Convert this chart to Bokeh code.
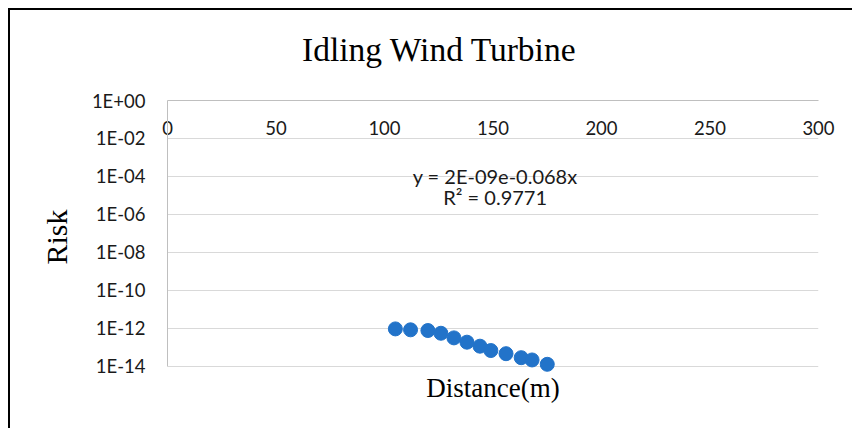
from bokeh.plotting import figure
from bokeh.models import (Range1d, FixedTicker, CustomJSTickFormatter, LinearAxis,
                          Label, Title, Spacer)
from bokeh.layouts import column, row
from bokeh.embed import file_html
from bokeh.resources import INLINE

# ---- data ----
distance = [105, 112, 120, 126, 132, 138, 144, 149, 156, 163, 168, 175]
risk = [9.5e-13, 8.5e-13, 7.8e-13, 5.6e-13, 3.2e-13, 1.9e-13, 1.17e-13,
        6.9e-14, 4.7e-14, 2.9e-14, 2.2e-14, 1.3e-14]
x_ticks = [0, 50, 100, 150, 200, 250, 300]
y_ticks = [1e0, 1e-2, 1e-4, 1e-6, 1e-8, 1e-10, 1e-12, 1e-14]
title_text = "Idling Wind Turbine"
x_label = "Distance(m)"
y_label = "Risk"
eq_lines = ["y = 2E-09e-0.068x", "R\u00b2 = 0.9771"]

# placement of the trendline equation (data coordinates)
eq_x = 151
eq_y = [10 ** -3.95, 10 ** -5.1]

TICK_FONT = "Lato"
SERIF = "Liberation Serif"

p = figure(width=842, height=418, output_backend="svg", toolbar_location=None,
           y_axis_type="log", x_range=Range1d(0, 300),
           y_range=Range1d(10 ** -14.37, 1e0),
           x_axis_location=None, y_axis_location="left",
           min_border_left=157, min_border_right=34, min_border_top=90,
           min_border_bottom=55)
p.title = None
p.outline_line_color = None
p.background_fill_color = "white"
p.border_fill_color = "white"

# y axis
ya = p.yaxis[0]
ya.ticker = FixedTicker(ticks=y_ticks, minor_ticks=[])
ya.bounds = (1e-14, 1e0)
ya.formatter = CustomJSTickFormatter(code="""
const e = Math.round(Math.log10(tick));
const a = Math.abs(e);
return '1E' + (e < 0 ? '-' : '+') + (a < 10 ? '0' : '') + a;
""")
ya.axis_line_color = "#bfbfbf"
ya.major_tick_line_color = None
ya.minor_tick_line_color = None
ya.major_label_text_font = TICK_FONT
ya.major_label_text_font_size = "18.5px"
ya.major_label_text_color = "#1a1a1a"
ya.major_label_standoff = 16
ya.axis_label = y_label
ya.axis_label_text_font = SERIF
ya.axis_label_text_font_size = "30px"
ya.axis_label_text_font_style = "normal"
ya.axis_label_text_color = "black"
ya.axis_label_standoff = 16

p.ygrid.ticker = FixedTicker(ticks=y_ticks, minor_ticks=[])
p.ygrid.grid_line_color = "#d9d9d9"
p.xgrid.grid_line_color = None

# x axis drawn at the top (crossing at 1E+00), labels inside the plot
xa = LinearAxis(ticker=FixedTicker(ticks=x_ticks, minor_ticks=[]))
xa.axis_line_color = "#bfbfbf"
xa.major_tick_line_color = None
xa.minor_tick_line_color = None
xa.major_label_text_font = TICK_FONT
xa.major_label_text_font_size = "18.5px"
xa.major_label_text_color = "#1a1a1a"
xa.major_label_standoff = -40
p.add_layout(xa, "above")

# empty spacer axis between the top axis and the title
sp = LinearAxis(ticker=FixedTicker(ticks=[], minor_ticks=[]))
sp.axis_line_color = None
sp.major_tick_line_color = None
sp.minor_tick_line_color = None
sp.major_label_text_alpha = 0
sp.axis_label = "."
sp.axis_label_text_alpha = 0
sp.axis_label_text_font_size = "10px"
sp.axis_label_standoff = 5
p.add_layout(sp, "above")

# x axis title below the plot
xb = LinearAxis(ticker=FixedTicker(ticks=[], minor_ticks=[]))
xb.axis_line_color = None
xb.major_tick_line_color = None
xb.minor_tick_line_color = None
xb.major_label_text_alpha = 0
xb.axis_label = x_label
xb.axis_label_text_font = SERIF
xb.axis_label_text_font_size = "27px"
xb.axis_label_text_font_style = "normal"
xb.axis_label_text_color = "black"
xb.axis_label_standoff = -1
p.add_layout(xb, "below")

# chart title
t = Title(text=title_text, align="left", offset=134.5, text_font=SERIF,
          text_font_size="33.5px", text_font_style="normal", text_color="black",
          standoff=34)
p.add_layout(t, "above")

# points
p.scatter(distance, risk, size=14, color="#2273c9", line_color="#2273c9")

# trendline equation
for txt, yy in zip(eq_lines, eq_y):
    p.add_layout(Label(x=eq_x, y=yy, text=txt, text_align="center",
                       text_baseline="middle", text_font=TICK_FONT,
                       text_font_size="20px", text_color="#1a1a1a"))

# chart-area border: only its top and left edges are visible in the crop
BLACK = {"background-color": "black"}
layout = column(
    Spacer(width=852, height=8),
    row(Spacer(width=8, height=2), Spacer(width=844, height=2, styles=BLACK)),
    row(Spacer(width=8, height=418), Spacer(width=2, height=418, styles=BLACK), p),
)

open("out.html", "w").write(file_html(layout, INLINE))
